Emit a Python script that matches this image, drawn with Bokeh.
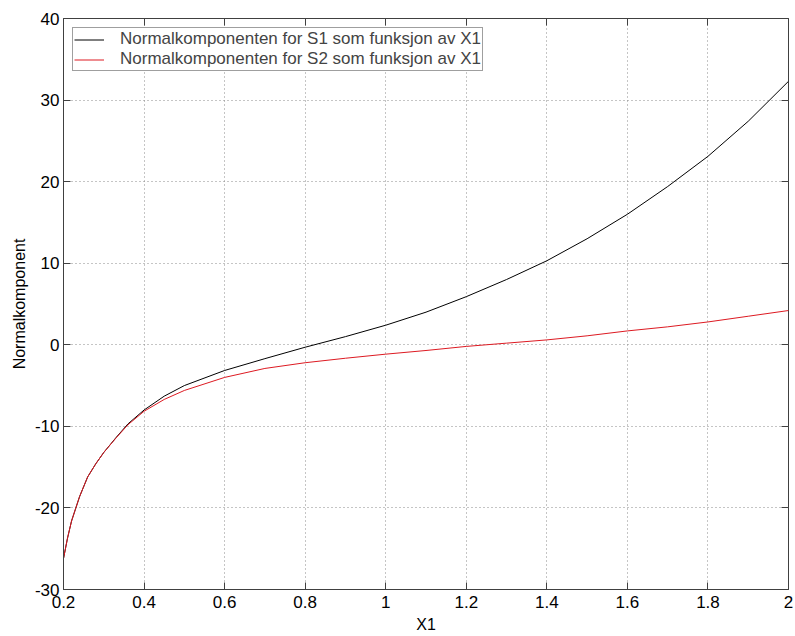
from bokeh.plotting import figure
from bokeh.models import LinearAxis, FixedTicker, Range1d, Legend, LegendItem
from bokeh.embed import file_html
from bokeh.resources import INLINE

# Data
x1 = [0.2, 0.21, 0.22, 0.23, 0.24, 0.26, 0.28, 0.30, 0.33, 0.36, 0.40, 0.45, 0.50, 0.60, 0.70,
      0.80, 0.90, 1.0, 1.1, 1.2, 1.3, 1.4, 1.5, 1.6, 1.7, 1.8, 1.9, 2.0]
s1 = [-26.2, -23.7, -21.6, -20.1, -18.6, -16.2, -14.6, -13.2, -11.4, -9.7, -8.0, -6.3, -5.0, -3.15, -1.7,
      -0.3, 1.0, 2.4, 4.0, 5.9, 8.0, 10.3, 13.0, 16.0, 19.4, 23.1, 27.4, 32.3]
s2 = [-26.2, -23.7, -21.6, -20.1, -18.6, -16.2, -14.6, -13.2, -11.45, -9.8, -8.15, -6.7, -5.6, -4.0, -2.9,
      -2.2, -1.65, -1.15, -0.7, -0.2, 0.2, 0.6, 1.1, 1.7, 2.2, 2.8, 3.5, 4.2]

x_ticks = [0.2, 0.4, 0.6, 0.8, 1.0, 1.2, 1.4, 1.6, 1.8, 2.0]
x_tick_labels = ["0.2", "0.4", "0.6", "0.8", "1", "1.2", "1.4", "1.6", "1.8", "2"]
y_ticks = [-30, -20, -10, 0, 10, 20, 30, 40]
y_tick_labels = ["-30", "-20", "-10", "0", "10", "20", "30", "40"]

legend_labels = ["Normalkomponenten for S1 som funksjon av X1",
                 "Normalkomponenten for S2 som funksjon av X1"]
x_label = "X1"
y_label = "Normalkomponent"

FONT = "Liberation Sans"
AXIS_COLOR = "#404040"

p = figure(width=795, height=636, output_backend="svg", toolbar_location=None,
           x_range=Range1d(0.2, 2.0), y_range=Range1d(-30, 40),
           min_border_left=63, min_border_right=7, min_border_top=18, min_border_bottom=47,
           x_axis_label=x_label, y_axis_label=y_label)

p.outline_line_color = AXIS_COLOR
p.outline_line_width = 1
p.background_fill_color = "white"
p.border_fill_color = "white"

for ax, ticks, labels in ((p.xaxis[0], x_ticks, x_tick_labels), (p.yaxis[0], y_ticks, y_tick_labels)):
    ax.ticker = FixedTicker(ticks=ticks)
    ax.major_label_overrides = {t: l for t, l in zip(ticks, labels)}
    ax.major_tick_in = 7
    ax.major_tick_out = 0
    ax.minor_tick_line_color = None
    ax.axis_line_color = AXIS_COLOR
    ax.major_tick_line_color = AXIS_COLOR
    ax.major_label_text_font = FONT
    ax.major_label_text_font_size = "17px"
    ax.major_label_text_color = "black"
    ax.axis_label_text_font = FONT
    ax.axis_label_text_font_size = "16px"
    ax.axis_label_text_font_style = "normal"
    ax.axis_label_text_color = "black"

p.xaxis[0].major_label_standoff = 6
p.xaxis[0].axis_label_standoff = 5
p.yaxis[0].major_label_standoff = 4
p.yaxis[0].axis_label_standoff = 4

# mirrored ticks on top and right (box on)
top_ax = LinearAxis(ticker=FixedTicker(ticks=x_ticks), major_tick_in=7, major_tick_out=0,
                    minor_tick_line_color=None, axis_line_color=None,
                    major_tick_line_color=AXIS_COLOR,
                    major_label_overrides={t: "" for t in x_ticks},
                    major_label_standoff=0)
right_ax = LinearAxis(ticker=FixedTicker(ticks=y_ticks), major_tick_in=7, major_tick_out=0,
                      minor_tick_line_color=None, axis_line_color=None,
                      major_tick_line_color=AXIS_COLOR,
                      major_label_overrides={t: "" for t in y_ticks},
                      major_label_standoff=0)
p.add_layout(top_ax, "above")
p.add_layout(right_ax, "right")

p.xgrid[0].ticker = FixedTicker(ticks=x_ticks)
p.ygrid[0].ticker = FixedTicker(ticks=y_ticks)
for g in (p.xgrid[0], p.ygrid[0]):
    g.grid_line_color = "#8a8a8a"
    g.grid_line_dash = "1 3"
    g.grid_line_width = 1

r1 = p.line(x1, s1, line_color="black", line_width=1)
r2 = p.line(x1, s2, line_color="#dd1a22", line_width=1)

legend = Legend(items=[LegendItem(label=legend_labels[0], renderers=[r1]),
                       LegendItem(label=legend_labels[1], renderers=[r2])],
                location="top_left", margin=9, padding=1, spacing=-3,
                glyph_width=30, glyph_height=15, label_height=15, label_standoff=16,
                label_text_font=FONT, label_text_font_size="17px",
                border_line_color=AXIS_COLOR, border_line_width=1,
                background_fill_color="white", background_fill_alpha=1.0)
p.add_layout(legend)

open("out.html", "w").write(file_html(p, INLINE))
